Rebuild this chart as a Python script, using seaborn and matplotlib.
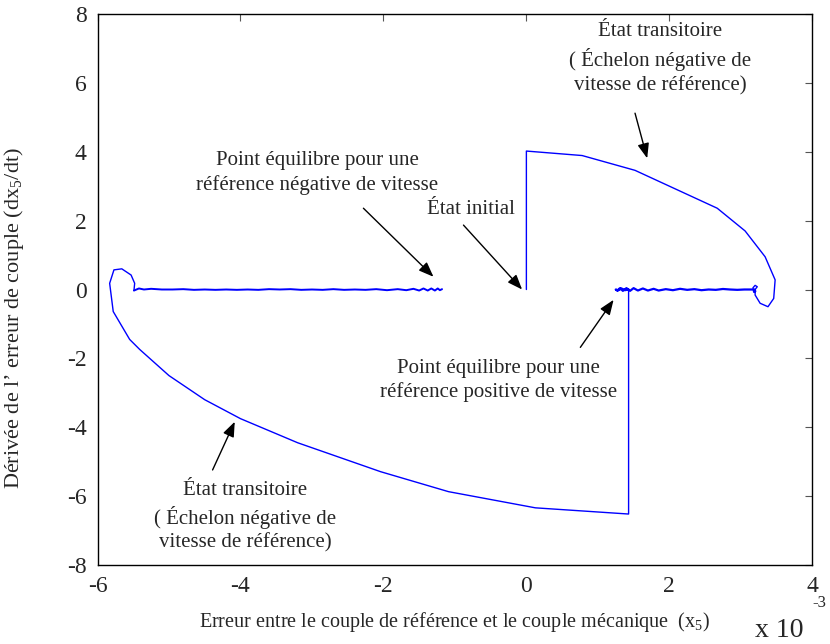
import matplotlib
matplotlib.use("Agg")
import matplotlib.pyplot as plt
import seaborn as sns
import pandas as pd

# ---- data (x in units of 1e-3) ----
traj_x = [0.0, 0.0, 0.78, 1.52, 2.67, 3.06, 3.34, 3.48, 3.46, 3.38, 3.27, 3.20, 3.20,
          3.23, 3.20, 3.17, 3.18, 3.21, 3.19]
traj_y = [0.0, 4.02, 3.89, 3.46, 2.36, 1.70, 0.95, 0.28, -0.26, -0.50, -0.40, -0.16, 0.0,
          0.08, 0.12, 0.05, -0.08, -0.05, 0.0]

pos_eq_x = [3.19, 3.05, 2.95, 2.85, 2.75, 2.65, 2.55, 2.45, 2.35, 2.25, 2.15, 2.05, 1.95,
            1.85, 1.78, 1.7, 1.63, 1.56, 1.5, 1.45, 1.4, 1.35, 1.31, 1.27, 1.25, 1.28,
            1.33, 1.38, 1.43]
pos_eq_y = [0.0, 0.0, -0.01, 0.0, 0.015, -0.01, 0.0, -0.02, 0.01, -0.01, 0.02, -0.02,
            0.01, -0.03, 0.02, -0.03, 0.03, -0.03, 0.04, -0.04, 0.04, -0.04, 0.04, -0.03,
            0.0, -0.03, 0.03, -0.02, 0.0]

low_x = [1.43, 1.43, 0.126, -1.09, -2.04, -3.2, -4.0, -4.5, -5.0, -5.41, -5.55, -5.78,
         -5.83, -5.77, -5.66, -5.53, -5.48, -5.49]
low_y = [0.0, -6.52, -6.34, -5.87, -5.29, -4.45, -3.75, -3.2, -2.5, -1.74, -1.45, -0.64,
         0.18, 0.57, 0.60, 0.42, 0.18, -0.03]

neg_eq_x = [-5.49, -5.42, -5.35, -5.25, -5.1, -4.95, -4.8, -4.65, -4.5, -4.35, -4.2, -4.05,
            -3.9, -3.75, -3.6, -3.45, -3.3, -3.15, -3.0, -2.85, -2.7, -2.55, -2.4, -2.25,
            -2.1, -1.95, -1.8, -1.68, -1.58, -1.5, -1.44, -1.38, -1.33, -1.28, -1.24,
            -1.21, -1.18]
neg_eq_y = [-0.03, 0.03, 0.0, 0.02, 0.0, 0.0, 0.01, -0.01, 0.0, -0.01, 0.0, -0.01,
            0.0, -0.01, 0.01, 0.0, 0.01, -0.01, 0.0, -0.01, 0.01, -0.01, 0.0, -0.01,
            0.01, -0.02, 0.01, -0.02, 0.02, -0.03, 0.03, -0.03, 0.03, -0.03, 0.03,
            -0.02, 0.01]

xticks = [-6, -4, -2, 0, 2, 4]
yticks = [-8, -6, -4, -2, 0, 2, 4, 6, 8]

sns.set_style("white")
plt.rcParams['font.family'] = ['Liberation Serif', 'DejaVu Serif']
plt.rcParams['mathtext.fontset'] = 'custom'
plt.rcParams['mathtext.rm'] = 'Liberation Serif'
plt.rcParams['mathtext.it'] = 'Liberation Serif'
plt.rcParams['mathtext.default'] = 'rm'

fig = plt.figure(figsize=(8.3, 6.44), dpi=100)
ax = fig.add_axes([97.5 / 830, 1 - 565 / 644, (812.3 - 97.5) / 830, (565 - 14) / 644])

blue = "#0000ff"
for xs, ys, lw in [(traj_x, traj_y, 1.0), (pos_eq_x, pos_eq_y, 1.6),
                   (low_x, low_y, 1.0), (neg_eq_x, neg_eq_y, 1.4)]:
    df = pd.DataFrame({"x": xs, "y": ys})
    sns.lineplot(data=df, x="x", y="y", sort=False, estimator=None, color=blue,
                 linewidth=lw, ax=ax)

ax.set_xlim(-6, 4)
ax.set_ylim(-8, 8)
ax.set_xticks(xticks)
ax.set_yticks(yticks)
ax.set_xticklabels([str(t) for t in xticks])
ax.set_yticklabels([str(t) for t in yticks])
ax.tick_params(direction="in", length=5, width=0.8, color="#555555", labelsize=17,
               top=True, right=True, pad=8)
for s in ax.spines.values():
    s.set_visible(True)
    s.set_color("black")
    s.set_linewidth(1.0)

ax.set_xlabel("Erreur entre le couple de référence et le couple mécanique  (x$_5$)",
              fontsize=14.5)
ax.xaxis.set_label_coords(0.5, -(622 - 565) / 551, transform=ax.transAxes)
ax.set_ylabel("Dérivée de l’ erreur de couple (dx$_5$/dt)", fontsize=16)
ax.yaxis.set_label_coords(-(97.5 - 14) / 714.8, 0.5 - (318 - 289.5) / 551,
                          transform=ax.transAxes)
ax.xaxis.label.set_va("center")
ax.yaxis.label.set_va("center")

fig.text(755 / 830, 1 - 637 / 644, "x 10", fontsize=20, ha="left", va="baseline")
fig.text(812 / 830, 1 - 607 / 644, "-3", fontsize=12, ha="left", va="baseline")

arrowprops = dict(arrowstyle="-|>,head_length=0.9,head_width=0.35", color="black",
                  lw=1.0, shrinkA=0, shrinkB=0)
fs = 15
ax.annotate("", xy=(1.69, 3.81), xytext=(1.52, 5.12), arrowprops=arrowprops)
ax.text(1.87, 6.7, "État transitoire\n( Échelon négative de\nvitesse de référence)",
        ha="center", va="center", fontsize=fs, linespacing=1.4)

ax.annotate("", xy=(-1.30, 0.37), xytext=(-2.28, 2.36), arrowprops=arrowprops)
ax.text(-2.93, 3.38, "Point équilibre pour une\nréférence négative de vitesse",
        ha="center", va="center", fontsize=fs, linespacing=1.3)

ax.annotate("", xy=(-0.06, 0.0), xytext=(-0.88, 1.87), arrowprops=arrowprops)
ax.text(-0.78, 2.31, "État initial", ha="center", va="center", fontsize=fs)

ax.annotate("", xy=(1.22, -0.30), xytext=(0.755, -1.68), arrowprops=arrowprops)
ax.text(-0.39, -2.65, "Point équilibre pour une\nréférence positive de vitesse",
        ha="center", va="center", fontsize=fs, linespacing=1.3)

ax.annotate("", xy=(-4.08, -3.84), xytext=(-4.39, -5.24), arrowprops=arrowprops)
ax.text(-3.93, -6.6, "État transitoire\n( Échelon négative de\nvitesse de référence)",
        ha="center", va="center", fontsize=fs, linespacing=1.3)

fig.savefig("out.png", dpi=100)
